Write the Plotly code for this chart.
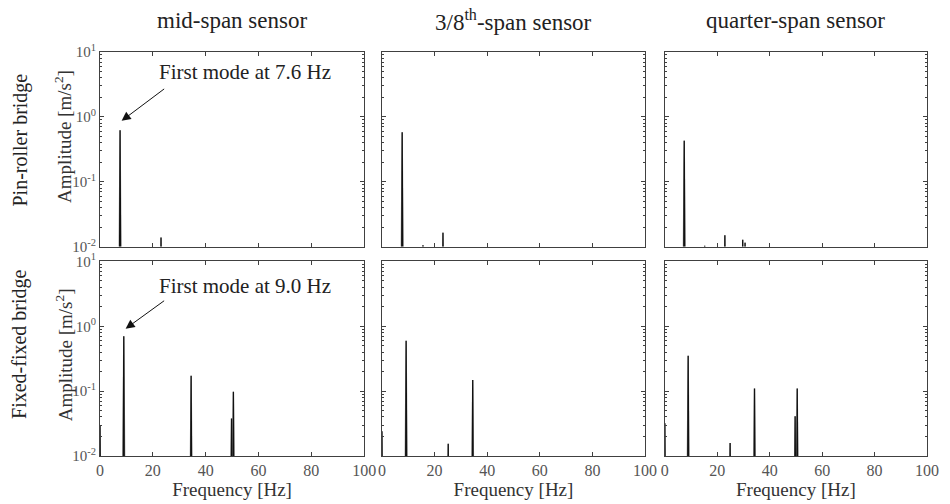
import plotly.graph_objects as go

# ---------------- data (peak frequency [Hz] / amplitude [m/s^2]) ----------------
col_titles = ["mid-span sensor", "3/8<sup>th</sup>-span sensor", "quarter-span sensor"]
row_titles = ["Pin-roller bridge", "Fixed-fixed bridge"]
x_ticks = [0, 20, 40, 60, 80, 100]
y_tickvals = [0.01, 0.1, 1, 10]
y_ticktext = ["10<sup>-2</sup>", "10<sup>-1</sup>", "10<sup>0</sup>", "10<sup>1</sup>"]
y_minor = [0.02, 0.03, 0.04, 0.05, 0.06, 0.07, 0.08, 0.09,
           0.2, 0.3, 0.4, 0.5, 0.6, 0.7, 0.8, 0.9,
           2, 3, 4, 5, 6, 7, 8, 9]

pr_mid_f = [7.6, 23.1]
pr_mid_a = [0.62, 0.0138]
pr_38_f = [7.7, 15.6, 23.2]
pr_38_a = [0.58, 0.0105, 0.0164]
pr_qtr_f = [7.4, 15.2, 22.9, 29.7, 30.6]
pr_qtr_a = [0.43, 0.0103, 0.0149, 0.0127, 0.0115]

ff_mid_f = [0.0, 9.0, 34.5, 49.8, 50.5]
ff_mid_a = [0.03, 0.70, 0.172, 0.038, 0.098]
ff_38_f = [0.0, 9.2, 25.2, 34.5]
ff_38_a = [0.024, 0.60, 0.0155, 0.148]
ff_qtr_f = [0.0, 8.9, 24.9, 34.2, 49.7, 50.5]
ff_qtr_a = [0.032, 0.35, 0.0159, 0.11, 0.041, 0.11]

panels = [
    [(pr_mid_f, pr_mid_a), (pr_38_f, pr_38_a), (pr_qtr_f, pr_qtr_a)],
    [(ff_mid_f, ff_mid_a), (ff_38_f, ff_38_a), (ff_qtr_f, ff_qtr_a)],
]

# ---------------- layout geometry ----------------
W, H = 950, 504
ML, MR, MT, MB = 100, 11, 52, 45
col_dom = [[0.0, 0.3194], [0.3409, 0.6591], [0.6830, 1.0]]
row_dom = [[0.5184, 1.0], [0.0, 0.4816]]
FONT = "Liberation Serif, Times New Roman, serif"
AX = "#404040"


def spike(freqs, amps, half):
    xs, ys = [], []
    for f, a in zip(freqs, amps):
        xs += [f - half, f, f + half, None]
        ys += [1e-4, a, 1e-4, None]
    return xs, ys


fig = go.Figure()
layout = {}
k = 0
for r in range(2):
    for c in range(3):
        k += 1
        xa = "x" if k == 1 else f"x{k}"
        ya = "y" if k == 1 else f"y{k}"
        f, a = panels[r][c]
        gx, gy = spike(f, a, 0.75)
        fig.add_trace(go.Scatter(x=gx, y=gy, mode="lines", xaxis=xa, yaxis=ya,
                                 line=dict(color="#9a9a9a", width=1.3), showlegend=False,
                                 hoverinfo="skip"))
        bx, by = spike(f, a, 0.35)
        fig.add_trace(go.Scatter(x=bx, y=by, mode="lines", xaxis=xa, yaxis=ya,
                                 line=dict(color="#111111", width=1.3), showlegend=False))
        xkey = "xaxis" if k == 1 else f"xaxis{k}"
        ykey = "yaxis" if k == 1 else f"yaxis{k}"
        layout[xkey] = dict(
            domain=col_dom[c], anchor=ya, range=[0, 100], tickvals=x_ticks,
            showticklabels=(r == 1), ticks="inside", ticklen=4, tickcolor=AX,
            showline=True, linecolor=AX, linewidth=1, mirror="ticks", showgrid=False,
            zeroline=False, tickfont=dict(family=FONT, size=16, color="#555555"),
            title=dict(text="Frequency [Hz]" if r == 1 else "", standoff=0,
                       font=dict(family=FONT, size=19, color="#333333")),
        )
        layout[ykey] = dict(
            domain=row_dom[r], anchor=xa, type="log", range=[-2, 1],
            tickvals=y_tickvals, ticktext=y_ticktext, showticklabels=(c == 0),
            ticks="inside", ticklen=4, tickcolor=AX, showline=True, linecolor=AX,
            linewidth=1, mirror="ticks", showgrid=False, zeroline=False,
            tickfont=dict(family=FONT, size=15, color="#555555"),
            minor=dict(tickmode="array", tickvals=y_minor, ticks="inside", ticklen=2,
                       tickcolor=AX, showgrid=False),
        )

ann = []
# column titles
for c in range(3):
    ann.append(dict(text=col_titles[c], xref="paper", yref="paper",
                    x=(col_dom[c][0] + col_dom[c][1]) / 2, y=1 + (MT - 20) / (H - MT - MB),
                    showarrow=False, font=dict(family=FONT, size=23, color="#222222"),
                    xanchor="center", yanchor="middle"))
# row titles and y-axis titles
row_cy = [141, 346]
amp_cy = [137, 357]
plot_h = H - MT - MB
plot_w = W - ML - MR
for r in range(2):
    ann.append(dict(text=row_titles[r], xref="paper", yref="paper",
                    x=(19 - ML) / plot_w, y=(H - MB - row_cy[r]) / plot_h, textangle=-90,
                    showarrow=False, font=dict(family=FONT, size=20, color="#222222"),
                    xanchor="center", yanchor="middle"))
    ann.append(dict(text="Amplitude [m/s<sup>2</sup>]", xref="paper", yref="paper",
                    x=(63 - ML) / plot_w, y=(H - MB - amp_cy[r]) / plot_h, textangle=-90,
                    showarrow=False, font=dict(family=FONT, size=19, color="#333333"),
                    xanchor="center", yanchor="middle"))

# annotations with arrows
mode_labels = ["First mode at 7.6 Hz", "First mode at 9.0 Hz"]
arrow_heads = [(8.2, -0.061, "x", "y"), (9.7, -0.037, "x4", "y4")]
arrow_offsets = [(44, -33), (40, -29)]
text_cy = [72, 288]
for r in range(2):
    hx, hy, xr, yr = arrow_heads[r]
    ann.append(dict(x=hx, y=hy, xref=xr, yref=yr, text="", showarrow=True,
                    ax=arrow_offsets[r][0], ay=arrow_offsets[r][1], arrowhead=2,
                    arrowsize=1.8, arrowwidth=1, arrowcolor="#111111"))
    ann.append(dict(text=mode_labels[r], xref="paper", yref="paper",
                    x=(247 - ML) / plot_w, y=(H - MB - text_cy[r]) / plot_h,
                    showarrow=False, font=dict(family=FONT, size=21, color="#222222"),
                    xanchor="center", yanchor="middle"))

fig.update_layout(
    width=W, height=H, margin=dict(l=ML, r=MR, t=MT, b=MB),
    paper_bgcolor="white", plot_bgcolor="white", annotations=ann, **layout,
)
fig.write_html("out.html")
